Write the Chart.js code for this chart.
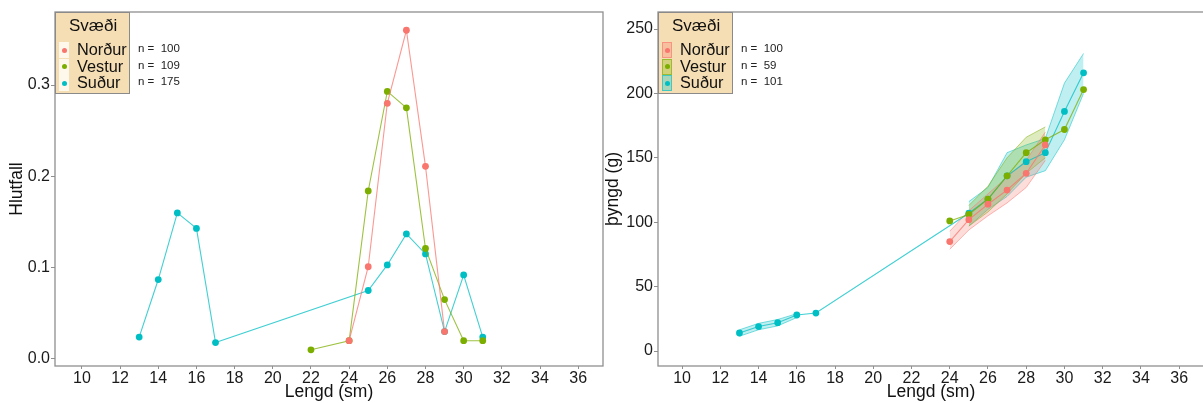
<!DOCTYPE html>
<html>
<head>
<meta charset="utf-8">
<script src="https://cdn.jsdelivr.net/npm/chart.js@4.4.1/dist/chart.umd.min.js"></script>
<style>
  body { margin: 0; width: 1203px; height: 403px; overflow: hidden; position: relative; background: #fff;
         font-family: "Liberation Sans", Arial, sans-serif; }
  .wrap { position: absolute; top: 0; }
  .leg { position: absolute; background: #f5deb3; border: 1px solid #8a8a8a; box-sizing: border-box; }
  .leg .ttl { position: absolute; font-size: 17px; color: #111; }
  .leg .lab { position: absolute; font-size: 16.3px; color: #111; line-height: 17px; }
  .key { position: absolute; width: 10px; height: 16px; box-sizing: border-box; }
  .dot { position: absolute; width: 5px; height: 5px; border-radius: 50%; left: 2.5px; top: 5.5px; }
  .nlab { position: absolute; font-size: 11.5px; color: #222; white-space: pre; }
</style>
</head>
<body>
<div class="wrap" style="left:0px"><canvas id="left" width="620" height="403"></canvas></div>
<div class="wrap" style="left:590px"><canvas id="right" width="620" height="403"></canvas></div>

<script>
// groups and colours
const groups = ['Norður', 'Vestur', 'Suður'];
const colors = ['#F8766D', '#7CAE00', '#00BFC4'];
const nLeft = [100, 109, 175];
const nRight = [100, 59, 101];

// ticks
const xTicks = [10, 12, 14, 16, 18, 20, 22, 24, 26, 28, 30, 32, 34, 36];
const yTicksLeft = [0, 0.1, 0.2, 0.3];
const yTicksRight = [0, 50, 100, 150, 200, 250];

// left panel: Hlutfall by length
const hlutNordurX = [24, 25, 26, 27, 28, 29];
const hlutNordurY = [0.020, 0.101, 0.280, 0.360, 0.211, 0.030];
const hlutVesturX = [22, 24, 25, 26, 27, 28, 29, 30, 31];
const hlutVesturY = [0.010, 0.020, 0.184, 0.293, 0.275, 0.121, 0.065, 0.020, 0.020];
const hlutSudurX = [13, 14, 15, 16, 17, 25, 26, 27, 28, 29, 30, 31];
const hlutSudurY = [0.024, 0.087, 0.160, 0.143, 0.018, 0.075, 0.103, 0.137, 0.115, 0.030, 0.092, 0.024];

// right panel: mean weight by length
const thyngdNordurX = [24, 25, 26, 27, 28, 29];
const thyngdNordurY = [85, 102, 114, 125, 138, 160];
const thyngdVesturX = [24, 25, 26, 27, 28, 29, 30, 31];
const thyngdVesturY = [101, 106, 118, 136, 154, 164, 172, 203];
const thyngdSudurX = [13, 14, 15, 16, 17, 25, 26, 27, 28, 29, 30, 31];
const thyngdSudurY = [14, 19, 22, 28, 29.5, 107, 118, 136, 147, 154, 186, 216];

// right panel: ribbons
const nordurBandX = [24, 25, 26, 27, 28, 29];
const nordurBandLow = [79, 94, 105, 115, 127, 148];
const nordurBandHigh = [93, 109, 122, 135, 148, 170];
const vesturBandX = [25, 26, 27, 28, 29];
const vesturBandLow = [97, 108, 122, 138, 150];
const vesturBandHigh = [113, 128, 150, 166, 174];
const sudurBandX1 = [13, 14, 15, 16];
const sudurBandLow1 = [11.5, 16.5, 19.5, 26];
const sudurBandHigh1 = [16.5, 21.5, 24.5, 29];
const sudurBandX2 = [25, 26, 27, 28, 29, 30, 31];
const sudurBandLow2 = [97, 110, 120, 135, 140, 164, 200];
const sudurBandHigh2 = [116, 127, 154, 160, 165, 208, 231];

function pts(xs, ys) { return xs.map((x, i) => ({ x: x, y: ys[i] })); }
function alpha(hex, a) {
  const n = parseInt(hex.slice(1), 16);
  return 'rgba(' + (n >> 16) + ',' + ((n >> 8) & 255) + ',' + (n & 255) + ',' + a + ')';
}

function lineSet(xs, ys, c) {
  return {
    data: pts(xs, ys), showLine: true, borderColor: alpha(c, 0.75), borderWidth: 1.1,
    pointRadius: 3.4, pointBackgroundColor: c, pointBorderWidth: 0, fill: false, order: 1
  };
}
function bandPair(xs, lo, hi, c) {
  return [
    { data: pts(xs, lo), showLine: true, borderColor: alpha(c, 0.5), borderWidth: 1, pointRadius: 0, fill: false, order: 2 },
    { data: pts(xs, hi), showLine: true, borderColor: alpha(c, 0.5), borderWidth: 1, pointRadius: 0,
      fill: '-1', backgroundColor: alpha(c, 0.25), order: 2 }
  ];
}

const frame = {
  id: 'frame',
  afterDatasetsDraw(chart) {
    const a = chart.chartArea, ctx = chart.ctx;
    ctx.save();
    ctx.strokeStyle = '#8f8f8f';
    ctx.lineWidth = 1.3;
    ctx.strokeRect(a.left, a.top, a.right - a.left, a.bottom - a.top);
    ctx.restore();
  }
};

function makeChart(id, datasets, cfg) {
  const tickFont = { family: '"Liberation Sans", Arial, sans-serif', size: 16 };
  const titleFont = { family: '"Liberation Sans", Arial, sans-serif', size: 17.5 };
  return new Chart(document.getElementById(id), {
    type: 'scatter',
    data: { datasets: datasets },
    options: {
      responsive: false, animation: false,
      layout: { padding: { left: 0, top: 12, right: cfg.padRight, bottom: 0 } },
      plugins: { legend: { display: false }, tooltip: { enabled: false } },
      scales: {
        x: {
          type: 'linear', min: cfg.xMin, max: cfg.xMax,
          afterBuildTicks: s => { s.ticks = xTicks.map(v => ({ value: v })); },
          afterFit: s => { s.height = 37; },
          grid: { display: true, drawOnChartArea: false, drawTicks: true, tickLength: 3, color: '#8f8f8f' },
          border: { display: false },
          ticks: { font: tickFont, color: '#1a1a1a', padding: 0, maxRotation: 0 },
          title: { display: true, text: 'Lengd (sm)', font: titleFont, color: '#111', padding: { top: 0, bottom: 0 } }
        },
        y: {
          min: cfg.yMin, max: cfg.yMax,
          afterBuildTicks: s => { s.ticks = cfg.yTicks.map(v => ({ value: v })); },
          afterFit: s => { s.width = cfg.yWidth; },
          grid: { display: true, drawOnChartArea: false, drawTicks: true, tickLength: 4, color: '#8f8f8f' },
          border: { display: false },
          ticks: { font: tickFont, color: '#1a1a1a', padding: 1, callback: cfg.yFmt },
          title: { display: true, text: cfg.yTitle, font: titleFont, color: '#111', padding: { top: cfg.yTitlePad, bottom: 0 } }
        }
      }
    },
    plugins: [frame]
  });
}

makeChart('left', [
  lineSet(hlutNordurX, hlutNordurY, colors[0]),
  lineSet(hlutVesturX, hlutVesturY, colors[1]),
  lineSet(hlutSudurX, hlutSudurY, colors[2])
], {
  padRight: 17, xMin: 8.59, xMax: 37.3, yMin: -0.0077, yMax: 0.380,
  yTicks: yTicksLeft, yWidth: 55, yTitle: 'Hlutfall', yTitlePad: 7,
  yFmt: v => v.toFixed(1)
});

makeChart('right', [
  ...bandPair(nordurBandX, nordurBandLow, nordurBandHigh, colors[0]),
  ...bandPair(vesturBandX, vesturBandLow, vesturBandHigh, colors[1]),
  ...bandPair(sudurBandX1, sudurBandLow1, sudurBandHigh1, colors[2]),
  ...bandPair(sudurBandX2, sudurBandLow2, sudurBandHigh2, colors[2]),
  lineSet(thyngdNordurX, thyngdNordurY, colors[0]),
  lineSet(thyngdVesturX, thyngdVesturY, colors[1]),
  lineSet(thyngdSudurX, thyngdSudurY, colors[2])
], {
  padRight: 6, xMin: 8.74, xMax: 37.3, yMin: -11.6, yMax: 263.2,
  yTicks: yTicksRight, yWidth: 68, yTitle: 'þyngd (g)', yTitlePad: 13,
  yFmt: v => String(v)
});

// legends (HTML, over the plots)
function legend(left, ns, ribbon) {
  const box = document.createElement('div');
  box.className = 'leg';
  box.style.left = left + 'px'; box.style.top = '12px';
  box.style.width = '75px'; box.style.height = '82px';
  const t = document.createElement('div');
  t.className = 'ttl'; t.textContent = 'Svæði';
  t.style.left = '13px'; t.style.top = '3px';
  box.appendChild(t);
  groups.forEach((g, i) => {
    const cy = 37 + i * 16.5;
    const k = document.createElement('div');
    k.className = 'key';
    k.style.left = '3px'; k.style.top = (cy - 8) + 'px';
    if (ribbon) {
      k.style.background = alpha(colors[i], 0.3);
      k.style.border = '1px solid ' + alpha(colors[i], 0.6);
    } else {
      k.style.background = 'rgba(255,255,255,0.75)';
    }
    const d = document.createElement('div');
    d.className = 'dot'; d.style.background = colors[i];
    if (ribbon) { d.style.left = '1.5px'; d.style.top = '4.5px'; }
    k.appendChild(d);
    box.appendChild(k);
    const l = document.createElement('div');
    l.className = 'lab'; l.textContent = g;
    l.style.left = '21px'; l.style.top = (cy - 9) + 'px';
    box.appendChild(l);
    const n = document.createElement('div');
    n.className = 'nlab'; n.textContent = 'n =  ' + ns[i];
    n.style.left = (left + 83) + 'px'; n.style.top = (12 + cy - 7) + 'px';
    document.body.appendChild(n);
  });
  document.body.appendChild(box);
}
legend(55, nLeft, false);
legend(658, nRight, true);
</script>
</body>
</html>
